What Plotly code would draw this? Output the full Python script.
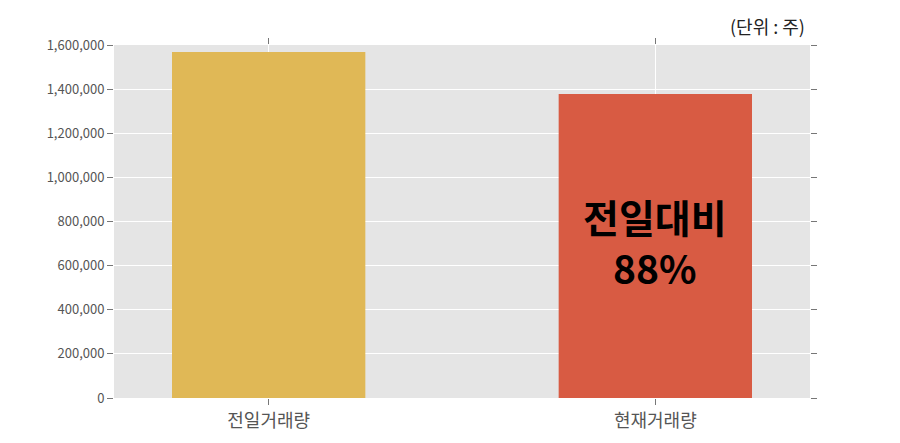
import plotly.graph_objects as go

# 거래량 데이터
categories = ['전일거래량', '현재거래량']
volumes = [1568000, 1378000]
bar_colors = ['#E0B856', '#D85B43']
y_ticks = [0, 200000, 400000, 600000, 800000, 1000000, 1200000, 1400000, 1600000]

ratio = round(volumes[1] / volumes[0] * 100)

fig = go.Figure(go.Bar(
    x=[0, 1],
    y=volumes,
    width=0.5,
    marker=dict(color=bar_colors, line=dict(width=0)),
    hoverinfo='skip',
))

# 전일대비 비율 표시
fig.add_annotation(
    x=1, y=volumes[1] * 0.515,
    text=f'<b>전일대비<br>{ratio}%</b>',
    showarrow=False,
    font=dict(family='Noto Sans CJK KR', size=39, color='black'),
    align='center',
)

fig.add_annotation(
    xref='paper', yref='paper', x=0.995, y=1.01,
    xanchor='right', yanchor='bottom',
    text='(단위 : 주)', showarrow=False,
    font=dict(family='Noto Sans CJK KR', size=18, color='#222222'),
)

# 페이지 기본 여백(8px)을 고려한 크기
fig.update_layout(
    width=884, height=427,
    margin=dict(l=106, r=82, t=37, b=37),
    paper_bgcolor='white',
    plot_bgcolor='#E5E5E5',
    showlegend=False,
    font=dict(family='Noto Sans CJK KR', color='#555555'),
)

fig.update_xaxes(
    range=[-0.4, 1.4],
    tickvals=[0, 1], ticktext=categories,
    tickfont=dict(size=18, color='#555555'),
    showgrid=True, gridcolor='white', gridwidth=1,
    ticks='outside', ticklen=6, tickcolor='#777777', mirror='ticks',
    showline=False, zeroline=False, automargin=False,
)
fig.update_yaxes(
    range=[0, 1600000],
    tickvals=y_ticks,
    tickformat=',d',
    tickfont=dict(size=13, color='#555555'),
    showgrid=True, gridcolor='white', gridwidth=1,
    ticks='outside', ticklen=6, tickcolor='#777777', mirror='ticks',
    showline=False, zeroline=False, automargin=False,
)

fig.write_html('out.html')
